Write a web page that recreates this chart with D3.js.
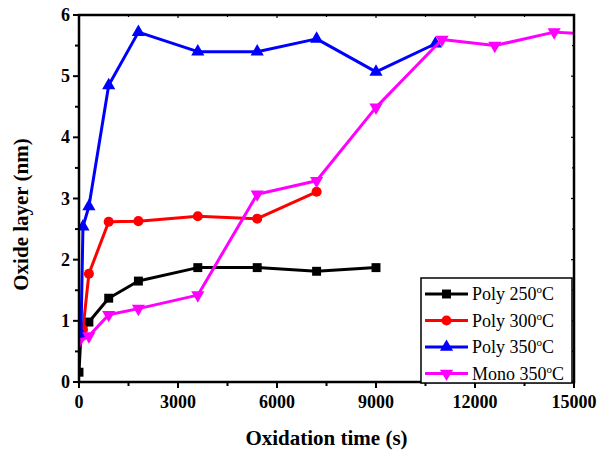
<!DOCTYPE html>
<html>
<head>
<meta charset="utf-8">
<script src="https://cdn.jsdelivr.net/npm/d3@7"></script>
<style>
  html, body { margin: 0; padding: 0; background: #fff; }
  svg { display: block; }
  svg text { font-family: "Times New Roman", Times, "Liberation Serif", Tinos, "DejaVu Serif", "Noto Serif", serif; }
</style>
</head>
<body>
<script>
// Oxidation time (s) vs oxide layer thickness (nm)
const poly250Time = [0, 60, 300, 900, 1800, 3600, 5400, 7200, 9000];
const poly250 = [0.16, 0.8, 0.98, 1.37, 1.65, 1.87, 1.87, 1.81, 1.87];

const poly300Time = [120, 300, 900, 1800, 3600, 5400, 7200];
const poly300 = [0.86, 1.77, 2.62, 2.63, 2.71, 2.67, 3.11];

const poly350Time = [60, 120, 300, 900, 1800, 3600, 5400, 7200, 9000, 10800];
const poly350 = [0.78, 2.54, 2.87, 4.85, 5.72, 5.40, 5.40, 5.61, 5.07, 5.53];

const mono350Time = [0, 300, 900, 1800, 3600, 5400, 7200, 9000, 11000, 12600, 14400, 16200];
const mono350 = [0.66, 0.75, 1.10, 1.20, 1.42, 3.07, 3.29, 4.49, 5.60, 5.50, 5.72, 5.66];

const seriesNames = ["Poly 250", "Poly 300", "Poly 350", "Mono 350"];
const seriesColors = ["#000000", "#ff0000", "#0000ff", "#ff00ff"];
const seriesSymbols = [d3.symbolSquare, d3.symbolCircle, d3.symbolTriangle, "down"];

const xTicks = [0, 3000, 6000, 9000, 12000, 15000];
const yTicks = [0, 1, 2, 3, 4, 5, 6];

const W = 598, H = 453;
const m = { left: 79, right: 24, top: 15, bottom: 71 };

const svg = d3.select("body").append("svg").attr("width", W).attr("height", H);

const x = d3.scaleLinear().domain([0, 15000]).range([m.left, W - m.right]);
const y = d3.scaleLinear().domain([0, 6]).range([H - m.bottom, m.top]);

svg.append("defs").append("clipPath").attr("id", "plot")
  .append("rect")
  .attr("x", m.left).attr("y", m.top - 10)
  .attr("width", x(15000) - m.left).attr("height", y(0) - m.top + 20);

const series = [
  { t: poly250Time, v: poly250 },
  { t: poly300Time, v: poly300 },
  { t: poly350Time, v: poly350 },
  { t: mono350Time, v: mono350 }
];

function marker(sel, sym, color, cx, cy) {
  if (sym === "down") {
    sel.append("path")
      .attr("d", d3.symbol(d3.symbolTriangle, 75)())
      .attr("transform", `translate(${cx},${cy}) rotate(180)`)
      .attr("fill", color);
  } else {
    sel.append("path")
      .attr("d", d3.symbol(sym, sym === d3.symbolTriangle ? 75 : 80)())
      .attr("transform", `translate(${cx},${cy})`)
      .attr("fill", color);
  }
}

const plot = svg.append("g").attr("clip-path", "url(#plot)");
const line = d3.line().x(d => x(d[0])).y(d => y(d[1]));

series.forEach((s, i) => {
  const pts = s.t.map((t, j) => [t, s.v[j]]);
  plot.append("path")
    .attr("d", line(pts))
    .attr("fill", "none")
    .attr("stroke", seriesColors[i])
    .attr("stroke-width", 3)
    .attr("stroke-linejoin", "round");
  const g = plot.append("g");
  pts.forEach(p => {
    if (p[0] <= 15000) marker(g, seriesSymbols[i], seriesColors[i], x(p[0]), y(p[1]));
  });
});

// Frame and axes
const axisG = svg.append("g");
const xMinor = d3.range(0, 15001, 1500);
const yMinor = d3.range(0, 6.01, 0.5);

axisG.selectAll(".xtb").data(xMinor).join("line")
  .attr("x1", d => x(d)).attr("x2", d => x(d))
  .attr("y1", y(0)).attr("y2", (d, i) => y(0) + (i % 2 === 0 ? 6 : 4))
  .attr("stroke", "#000").attr("stroke-width", 2);
axisG.selectAll(".xtt").data(xMinor).join("line")
  .attr("x1", d => x(d)).attr("x2", d => x(d))
  .attr("y1", y(6)).attr("y2", (d, i) => y(6) + (i % 2 === 0 ? 3 : 2))
  .attr("stroke", "#000").attr("stroke-width", 1.2);
axisG.selectAll(".ytl").data(yMinor).join("line")
  .attr("y1", d => y(d)).attr("y2", d => y(d))
  .attr("x1", x(0)).attr("x2", (d, i) => x(0) - (i % 2 === 0 ? 6 : 4))
  .attr("stroke", "#000").attr("stroke-width", 2);
axisG.selectAll(".ytr").data(yMinor).join("line")
  .attr("y1", d => y(d)).attr("y2", d => y(d))
  .attr("x1", x(15000)).attr("x2", (d, i) => x(15000) - (i % 2 === 0 ? 3 : 2))
  .attr("stroke", "#000").attr("stroke-width", 1.2);

axisG.append("rect")
  .attr("x", x(0)).attr("y", y(6))
  .attr("width", x(15000) - x(0)).attr("height", y(0) - y(6))
  .attr("fill", "none").attr("stroke", "#000").attr("stroke-width", 2.5);

axisG.selectAll(".xl").data(xTicks).join("text")
  .attr("x", d => x(d)).attr("y", y(0) + 26)
  .attr("text-anchor", "middle").attr("font-size", 18).attr("font-weight", "bold")
  .text(d => d);
axisG.selectAll(".yl").data(yTicks).join("text")
  .attr("x", x(0) - 9).attr("y", d => y(d) + 6)
  .attr("text-anchor", "end").attr("font-size", 18).attr("font-weight", "bold")
  .text(d => d);

svg.append("text")
  .attr("x", x(7500)).attr("y", 445)
  .attr("text-anchor", "middle").attr("font-size", 21).attr("font-weight", "bold")
  .text("Oxidation time (s)");
svg.append("text")
  .attr("transform", `translate(28,${(y(0) + y(6)) / 2 + 16}) rotate(-90)`)
  .attr("text-anchor", "middle").attr("font-size", 21).attr("font-weight", "bold")
  .text("Oxide layer (nm)");

// Legend
const lg = svg.append("g");
lg.append("rect")
  .attr("x", 421).attr("y", 278).attr("width", 151).attr("height", 105)
  .attr("fill", "#fff").attr("stroke", "#000").attr("stroke-width", 1.5);
const rowY = [294, 320.5, 347, 373.5];
seriesNames.forEach((name, i) => {
  lg.append("line")
    .attr("x1", 425).attr("x2", 468).attr("y1", rowY[i]).attr("y2", rowY[i])
    .attr("stroke", seriesColors[i]).attr("stroke-width", 3);
  marker(lg, seriesSymbols[i], seriesColors[i], 446.5, rowY[i]);
  const t = lg.append("text")
    .attr("x", 472).attr("y", rowY[i] + 6)
    .attr("font-size", 18);
  t.append("tspan").text(name);
  t.append("tspan").attr("font-size", 11).attr("dy", -7).text("o");
  t.append("tspan").attr("dy", 7).text("C");
});
</script>
</body>
</html>
